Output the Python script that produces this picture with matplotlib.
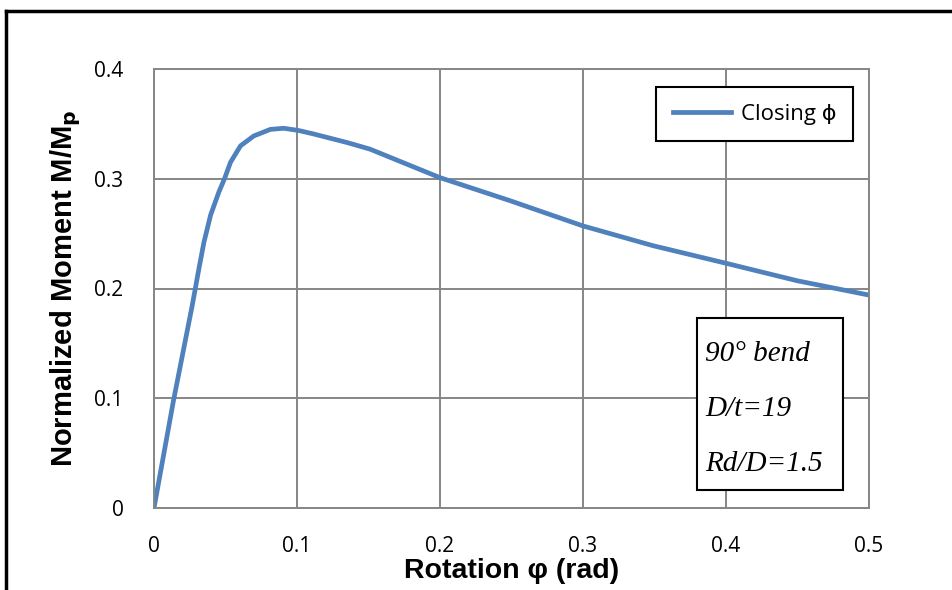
import matplotlib.pyplot as plt
from matplotlib.lines import Line2D
from matplotlib.patches import Rectangle

# dane
rotacja = [0.0, 0.0135, 0.0268, 0.0314, 0.0349, 0.0396, 0.0454, 0.0493, 0.0535, 0.0605,
           0.0698, 0.0814, 0.0907, 0.101, 0.111, 0.135, 0.151, 0.200, 0.249, 0.300,
           0.349, 0.400, 0.450, 0.500]
moment = [0.0, 0.097, 0.185, 0.218, 0.242, 0.267, 0.288, 0.300, 0.315, 0.330,
          0.339, 0.345, 0.346, 0.344, 0.341, 0.333, 0.327, 0.301, 0.280, 0.257,
          0.239, 0.223, 0.207, 0.194]

x_ticks = [0, 0.1, 0.2, 0.3, 0.4, 0.5]
x_tick_labels = ["0", "0.1", "0.2", "0.3", "0.4", "0.5"]
y_ticks = [0, 0.1, 0.2, 0.3, 0.4]
y_tick_labels = ["0", "0.1", "0.2", "0.3", "0.4"]
opis = ["90° bend", "D/t=19", "Rd/D=1.5"]

niebieski = "#4F81BD"
szary = "#868686"
sans = ["Open Sans", "DejaVu Sans"]
bold = ["Liberation Sans", "DejaVu Sans"]

fig = plt.figure(figsize=(9.53, 5.90), dpi=100)
ax = fig.add_axes([154 / 953, 1 - 508 / 590, 715 / 953, 439 / 590])

ax.plot(rotacja, moment, color=niebieski, linewidth=3.4,
        solid_capstyle="round", solid_joinstyle="round")

ax.set_xlim(0, 0.5)
ax.set_ylim(0, 0.4)
ax.set_xticks(x_ticks)
ax.set_xticklabels(x_tick_labels, family=sans, fontsize=15)
ax.set_yticks(y_ticks)
ax.set_yticklabels(y_tick_labels, family=sans, fontsize=15)
ax.tick_params(length=0)
ax.tick_params(axis="x", pad=20)
ax.tick_params(axis="y", pad=22)
ax.grid(True, color=szary, linewidth=1.4)
ax.set_axisbelow(True)
for s in ax.spines.values():
    s.set_color(szary)
    s.set_linewidth(1.4)

ax.set_xlabel("Rotation φ (rad)", family=bold, fontsize=20.5, fontweight="bold", labelpad=1)
ax.set_ylabel("Normalized Moment M/M$_\\mathbf{p}$", family=bold,
              fontsize=21, fontweight="bold", labelpad=8)

# legenda
uchwyt = Line2D([0], [0], color=niebieski, linewidth=3.4)
leg = ax.legend([uchwyt], ["Closing ϕ"], loc="upper right", bbox_to_anchor=(853 / 953, 1 - 87 / 590),
                bbox_transform=fig.transFigure, fancybox=False, framealpha=1, edgecolor="black",
                prop={"family": sans, "size": 16}, handlelength=2.6,
                borderpad=0.75, handletextpad=0.45, borderaxespad=0)
leg.get_frame().set_linewidth(1.5)

# ramka z opisem
ax.add_patch(Rectangle((0.38, 0.016), 0.102, 0.157, facecolor="white", edgecolor="black",
                       linewidth=1.5, zorder=3))
for i, t in enumerate(opis):
    ax.text(0.3855, 0.140 - i * 0.050, t, ha="left", va="center", family="Liberation Serif",
            style="italic", fontsize=21, zorder=4)

# zewnetrzna ramka
fig.add_artist(Line2D([6 / 953, 6 / 953], [0, 1 - 11 / 590], color="black", linewidth=2.5,
                      transform=fig.transFigure))
fig.add_artist(Line2D([6 / 953, 1], [1 - 11 / 590, 1 - 11 / 590], color="black", linewidth=2.5,
                      transform=fig.transFigure))

fig.savefig("out.png", dpi=100)
